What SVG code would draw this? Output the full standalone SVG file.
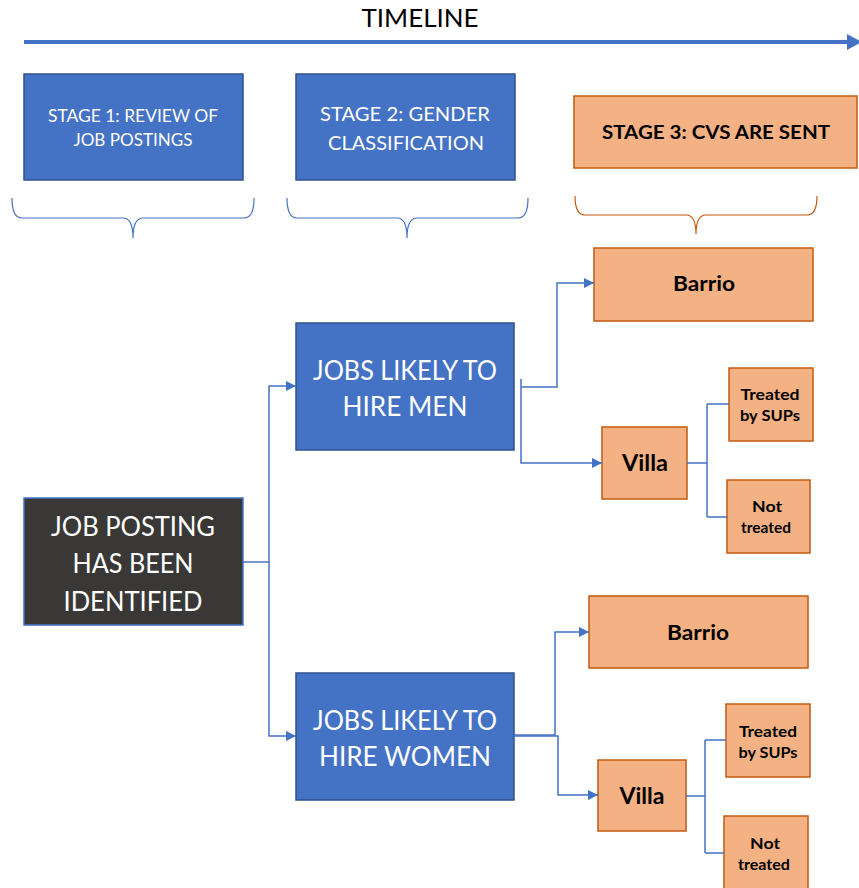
<svg xmlns="http://www.w3.org/2000/svg" width="859" height="888" viewBox="0 0 859 888">
<style>
text{font-family:Lato,"Open Sans","Liberation Sans",sans-serif;text-anchor:middle}
.blue{fill:#4472C4;stroke:#2F528F;stroke-width:1.5}
.dark{fill:#3A3836;stroke:#4472C4;stroke-width:1.5}
.org{fill:#F4B183;stroke:#C55A11;stroke-width:1.5}
.w{fill:#fff}
.b{fill:#000;font-weight:bold}
.con{fill:none;stroke:#4472C4;stroke-width:1.5}
.br{fill:none;stroke-width:1.2}
</style>
<defs>
<marker id="ah" viewBox="0 0 10 10" refX="10" refY="5" markerWidth="10" markerHeight="10" markerUnits="userSpaceOnUse" orient="auto">
<path d="M0,0 L10,5 L0,10 z" fill="#4472C4"/>
</marker>
</defs>

<g id="timeline">
<text x="420" y="27" font-size="25" fill="#000" textLength="117" lengthAdjust="spacingAndGlyphs">TIMELINE</text>
<line x1="24" y1="42" x2="849" y2="42" stroke="#4472C4" stroke-width="4"/>
<polygon points="847,34 862,42 847,50" fill="#4472C4"/>
</g>

<g id="stage1">
<rect class="blue" x="24" y="74" width="219" height="106"/>
<text class="w" x="133" y="122" font-size="17" textLength="170" lengthAdjust="spacingAndGlyphs">STAGE 1: REVIEW OF</text>
<text class="w" x="133" y="146" font-size="17" textLength="119" lengthAdjust="spacingAndGlyphs">JOB POSTINGS</text>
</g>
<g id="stage2">
<rect class="blue" x="296" y="74" width="219" height="106"/>
<text class="w" x="405" y="121" font-size="20" textLength="170" lengthAdjust="spacingAndGlyphs">STAGE 2: GENDER</text>
<text class="w" x="406" y="150" font-size="20" textLength="156" lengthAdjust="spacingAndGlyphs">CLASSIFICATION</text>
</g>
<g id="stage3">
<rect class="org" x="574" y="96" width="283" height="72"/>
<text class="b" x="716" y="139" font-size="19" textLength="228" lengthAdjust="spacingAndGlyphs">STAGE 3: CVS ARE SENT</text>
</g>

<g id="braces">
<path class="br" stroke="#4472C4" d="M12,198 Q12,218 22,218 L123,218 Q133,218 133,238 Q133,218 143,218 L244,218 Q254,218 254,198"/>
<path class="br" stroke="#4472C4" d="M287,198 Q287,218 297,218 L397,218 Q407,218 407,238 Q407,218 417,218 L518,218 Q528,218 528,198"/>
<path class="br" stroke="#C55A11" d="M575,196 Q575,215 585,215 L686,215 Q696,215 696,234 Q696,215 706,215 L807,215 Q817,215 817,196"/>
</g>

<g id="job-posting">
<rect class="dark" x="24" y="498" width="219" height="127"/>
<text class="w" x="133" y="536" font-size="26" textLength="164" lengthAdjust="spacingAndGlyphs">JOB POSTING</text>
<text class="w" x="133" y="573" font-size="26" textLength="121" lengthAdjust="spacingAndGlyphs">HAS BEEN</text>
<text class="w" x="133" y="611" font-size="26" textLength="139" lengthAdjust="spacingAndGlyphs">IDENTIFIED</text>
</g>

<g id="jobs-men">
<rect class="blue" x="296" y="323" width="218" height="127"/>
<text class="w" x="405" y="380" font-size="26" textLength="184" lengthAdjust="spacingAndGlyphs">JOBS LIKELY TO</text>
<text class="w" x="405" y="416" font-size="26" textLength="125" lengthAdjust="spacingAndGlyphs">HIRE MEN</text>
</g>
<g id="jobs-women">
<rect class="blue" x="296" y="673" width="218" height="127"/>
<text class="w" x="405" y="730" font-size="26" textLength="184" lengthAdjust="spacingAndGlyphs">JOBS LIKELY TO</text>
<text class="w" x="405" y="766" font-size="26" textLength="172" lengthAdjust="spacingAndGlyphs">HIRE WOMEN</text>
</g>

<g id="barrio-men">
<rect class="org" x="594" y="248" width="219" height="73"/>
<text class="b" x="704" y="291" font-size="21" textLength="62" lengthAdjust="spacingAndGlyphs">Barrio</text>
</g>
<g id="villa-men">
<rect class="org" x="602" y="427" width="85" height="72"/>
<text class="b" x="645" y="471" font-size="23" textLength="46" lengthAdjust="spacingAndGlyphs">Villa</text>
</g>
<g id="treated-men">
<rect class="org" x="729" y="368" width="84" height="73"/>
<text class="b" x="770" y="400" font-size="15" textLength="59" lengthAdjust="spacingAndGlyphs">Treated</text>
<text class="b" x="770" y="421" font-size="15" textLength="60" lengthAdjust="spacingAndGlyphs">by SUPs</text>
</g>
<g id="nottreated-men">
<rect class="org" x="727" y="480" width="83" height="73"/>
<text class="b" x="767" y="512" font-size="15" textLength="30" lengthAdjust="spacingAndGlyphs">Not</text>
<text class="b" x="766" y="533" font-size="15" textLength="50" lengthAdjust="spacingAndGlyphs">treated</text>
</g>

<g id="barrio-women">
<rect class="org" x="589" y="596" width="219" height="72"/>
<text class="b" x="698" y="640" font-size="21" textLength="62" lengthAdjust="spacingAndGlyphs">Barrio</text>
</g>
<g id="villa-women">
<rect class="org" x="598" y="760" width="88" height="71"/>
<text class="b" x="642" y="804" font-size="23" textLength="45" lengthAdjust="spacingAndGlyphs">Villa</text>
</g>
<g id="treated-women">
<rect class="org" x="726" y="704" width="84" height="73"/>
<text class="b" x="768" y="737" font-size="15" textLength="58" lengthAdjust="spacingAndGlyphs">Treated</text>
<text class="b" x="768" y="758" font-size="15" textLength="59" lengthAdjust="spacingAndGlyphs">by SUPs</text>
</g>
<g id="nottreated-women">
<rect class="org" x="724" y="816" width="84" height="73"/>
<text class="b" x="765" y="849" font-size="15" textLength="30" lengthAdjust="spacingAndGlyphs">Not</text>
<text class="b" x="764" y="870" font-size="15" textLength="52" lengthAdjust="spacingAndGlyphs">treated</text>
</g>

<g id="connectors">
<path class="con" d="M243,562 H269"/>
<path class="con" d="M269,562 V386 H296" marker-end="url(#ah)"/>
<path class="con" d="M269,562 V736 H296" marker-end="url(#ah)"/>
<path class="con" d="M521,379 V463 H602" marker-end="url(#ah)"/>
<path class="con" d="M521,387 H557 V283 H594" marker-end="url(#ah)"/>
<path class="con" d="M687,463 H707 M707,404 V517 M707,404 H729 M707,517 H727"/>
<path class="con" d="M514,735 H555 V632 H589" marker-end="url(#ah)"/>
<path class="con" d="M514,736 H558 V795 H598" marker-end="url(#ah)"/>
<path class="con" d="M686,796 H705 M705,740 V853 M705,740 H726 M705,853 H724"/>
</g>
</svg>
